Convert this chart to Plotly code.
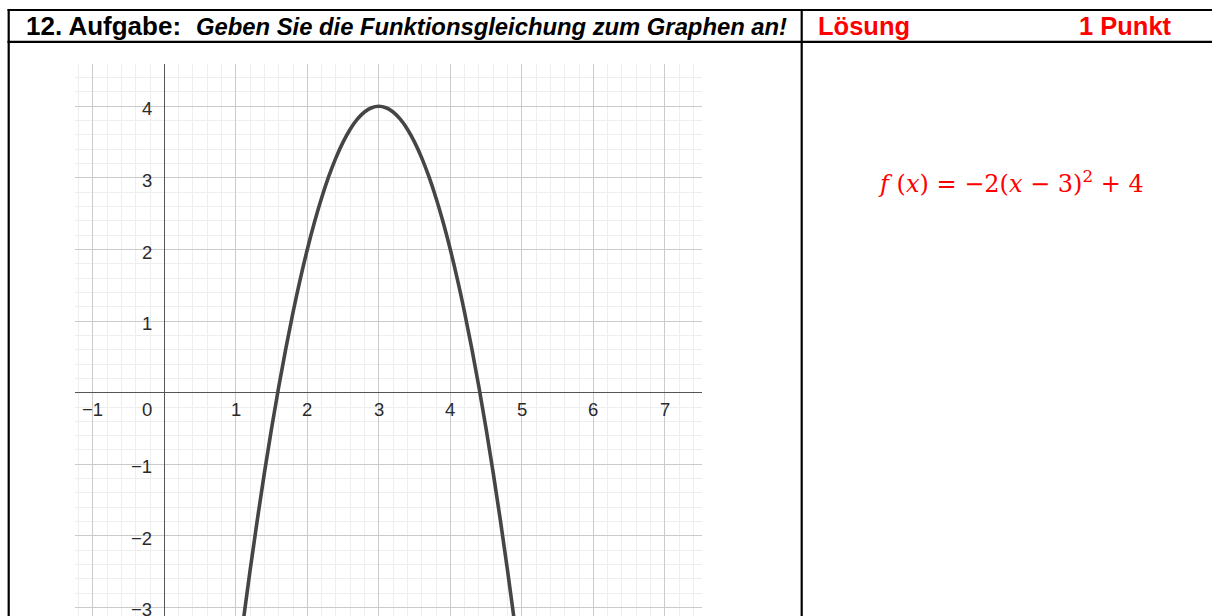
import plotly.graph_objects as go

# ── Data ─────────────────────────────────────────────────────────────────────
curve_x = [1.1, 1.2, 1.3, 1.4, 1.5, 1.6, 1.7, 1.8, 1.9, 2.0,
           2.1, 2.2, 2.3, 2.4, 2.5, 2.6, 2.7, 2.8, 2.9, 3.0,
           3.1, 3.2, 3.3, 3.4, 3.5, 3.6, 3.7, 3.8, 3.9, 4.0,
           4.1, 4.2, 4.3, 4.4, 4.5, 4.6, 4.7, 4.8, 4.9]
curve_y = [-3.22, -2.48, -1.78, -1.12, -0.50, 0.08, 0.62, 1.12, 1.58, 2.00,
           2.38, 2.72, 3.02, 3.28, 3.50, 3.68, 3.82, 3.92, 3.98, 4.00,
           3.98, 3.92, 3.82, 3.68, 3.50, 3.28, 3.02, 2.72, 2.38, 2.00,
           1.58, 1.12, 0.62, 0.08, -0.50, -1.12, -1.78, -2.48, -3.22]

x_ticks = [-1, 1, 2, 3, 4, 5, 6, 7]
y_ticks = [-3, -2, -1, 1, 2, 3, 4]

header_task = "12. Aufgabe:"
header_question = "Geben Sie die Funktionsgleichung zum Graphen an!"
header_solution = "Lösung"
header_points = "1 Punkt"
solution_formula = "<i>f</i> (<i>x</i>) = −2(<i>x</i> − 3)<sup>2</sup> + 4"

W, H = 1212, 616


def px(x):
    return x / W


def py(y):
    return 1 - y / H


LABEL = "#2a2a2a"
MINUS = "\u2212"
SANS = "Liberation Sans, Arial, sans-serif"


def fmt(v):
    return f"{MINUS}{abs(v)}" if v < 0 else str(v)


fig = go.Figure()

fig.add_trace(go.Scatter(
    x=curve_x, y=curve_y,
    mode="lines",
    line=dict(color="#454545", width=3.6, shape="spline"),
    hoverinfo="skip",
))

annotations = []

# tick labels sit next to the axes, GeoGebra style
for v in x_ticks:
    annotations.append(dict(
        x=v, y=0, xref="x", yref="y", text=fmt(v), showarrow=False,
        xanchor="center", yanchor="middle", yshift=-17,
        font=dict(size=18.5, color=LABEL, family=SANS),
    ))
for v in y_ticks:
    annotations.append(dict(
        x=0, y=v, xref="x", yref="y", text=fmt(v), showarrow=False,
        xanchor="right", yanchor="middle", xshift=-10, yshift=-2.5,
        font=dict(size=18.5, color=LABEL, family=SANS),
    ))
annotations.append(dict(
    x=0, y=0, xref="x", yref="y", text="0", showarrow=False,
    xanchor="right", yanchor="middle", xshift=-10, yshift=-17,
    font=dict(size=18.5, color=LABEL, family=SANS),
))

# table header texts
annotations += [
    dict(x=px(24), y=py(26), xref="paper", yref="paper", text=f"<b>{header_task}</b>",
         showarrow=False, xanchor="left", yanchor="middle",
         font=dict(size=26, color="black", family=SANS)),
    dict(x=px(194), y=py(26.5), xref="paper", yref="paper", text=f"<b><i>{header_question}</i></b>",
         showarrow=False, xanchor="left", yanchor="middle",
         font=dict(size=23.8, color="black", family=SANS)),
    dict(x=px(816), y=py(26), xref="paper", yref="paper", text=f"<b>{header_solution}</b>",
         showarrow=False, xanchor="left", yanchor="middle",
         font=dict(size=25.5, color="#ff0000", family=SANS)),
    dict(x=px(1077), y=py(26), xref="paper", yref="paper", text=f"<b>{header_points}</b>",
         showarrow=False, xanchor="left", yanchor="middle",
         font=dict(size=25.5, color="#ff0000", family=SANS)),
    dict(x=px(876), y=py(182), xref="paper", yref="paper", text=solution_formula,
         showarrow=False, xanchor="left", yanchor="middle",
         font=dict(size=24, color="#ff0000", family="DejaVu Serif, serif")),
]

# table rules
line = dict(color="black", width=2.2)
shapes = [
    dict(type="line", xref="paper", yref="paper", x0=px(7.5), x1=1, y0=py(10), y1=py(10), line=line),
    dict(type="line", xref="paper", yref="paper", x0=px(7.5), x1=1, y0=py(41.8), y1=py(41.8), line=line),
    dict(type="line", xref="paper", yref="paper", x0=px(8.7), x1=px(8.7), y0=py(9), y1=0, line=line),
    dict(type="line", xref="paper", yref="paper", x0=px(801.7), x1=px(801.7), y0=py(9), y1=0, line=line),
]

axis_common = dict(
    showticklabels=False, ticks="",
    showgrid=True, gridcolor="#cbcbcb", gridwidth=1, dtick=1, tick0=0,
    minor=dict(dtick=0.2, tick0=0, showgrid=True, gridcolor="#eeeeee", gridwidth=1),
    zeroline=True, zerolinecolor="#555555", zerolinewidth=1.3,
    showline=False, fixedrange=True,
)

fig.update_layout(
    width=W, height=H,
    margin=dict(l=0, r=0, t=0, b=0),
    paper_bgcolor="white", plot_bgcolor="white",
    showlegend=False,
    xaxis=dict(domain=[px(75), px(701.7)], range=[-1.249, 7.516], **axis_common),
    yaxis=dict(domain=[0, py(64)], range=[-3.119, 4.591], **axis_common),
    annotations=annotations,
    shapes=shapes,
)

# the page body keeps the browser's default 8px margin otherwise
fig.write_html(
    "out.html",
    config={"displayModeBar": False},
    post_script="document.body.style.margin='0';document.body.style.overflow='hidden';",
)
